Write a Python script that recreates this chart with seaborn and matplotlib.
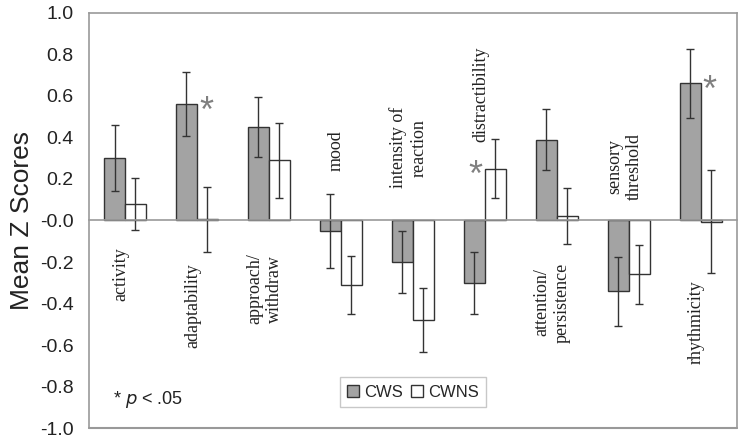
import numpy as np
import pandas as pd
import matplotlib
matplotlib.use("Agg")
import matplotlib.pyplot as plt
from matplotlib.patches import Patch
import seaborn as sns

traits = ["activity", "adaptability", "approach/\nwithdraw", "mood",
          "intensity of\nreaction", "distractibility", "attention/\npersistence",
          "sensory\nthreshold", "rhythmicity"]
groups = ["CWS", "CWNS"]
cws_mean = [0.30, 0.56, 0.45, -0.05, -0.20, -0.30, 0.39, -0.34, 0.66]
cws_err = [0.16, 0.155, 0.145, 0.18, 0.15, 0.15, 0.148, 0.166, 0.167]
cwns_mean = [0.08, 0.005, 0.29, -0.31, -0.48, 0.25, 0.02, -0.26, -0.005]
cwns_err = [0.125, 0.157, 0.18, 0.14, 0.153, 0.142, 0.135, 0.14, 0.25]
# traits with p < .05 and which bar the asterisk sits next to
sig_traits = {"adaptability": "CWS", "distractibility": "CWNS", "rhythmicity": "CWS"}

# where the rotated category labels sit (y in data units)
label_y = [-0.26, -0.41, -0.33, 0.335, 0.35, 0.61, -0.395, 0.26, -0.49]

df = pd.DataFrame({
    "trait": traits * 2,
    "group": ["CWS"] * len(traits) + ["CWNS"] * len(traits),
    "z": cws_mean + cwns_mean,
})

sns.set_style("white")
plt.rcParams["font.family"] = ["Liberation Sans", "DejaVu Sans"]

fig = plt.figure(figsize=(7.54, 4.45), dpi=100)
ax = fig.add_axes([0.118, 0.038, 0.859, 0.933])

colors = {"CWS": "#a3a3a3", "CWNS": "white"}
sns.barplot(data=df, x="trait", y="z", hue="group", hue_order=groups,
            palette=colors, edgecolor="#333333", linewidth=1, width=0.58,
            errorbar=None, legend=False, ax=ax)

errs = {"CWS": cws_err, "CWNS": cwns_err}
for grp, cont in zip(groups, ax.containers):
    xs = [b.get_x() + b.get_width() / 2 for b in cont]
    ys = [b.get_height() for b in cont]
    ax.errorbar(xs, ys, yerr=errs[grp], fmt="none", ecolor="#333333",
                elinewidth=1, capsize=3, capthick=1)
    for i, b in enumerate(cont):
        name = traits[i]
        if sig_traits.get(name) == grp:
            if grp == "CWS":
                ax.text(b.get_x() + b.get_width() + 0.03, ys[i] + 0.045, "*",
                        color="#808080", fontsize=26, ha="left", va="top")
            else:
                ax.text(b.get_x() - 0.03, ys[i] + 0.045, "*", color="#808080",
                        fontsize=26, ha="right", va="top")

for i, (name, ly) in enumerate(zip(traits, label_y)):
    ax.text(i - 0.06, ly, name, rotation=90, ha="center", va="center",
            family="Liberation Serif", fontsize=13, color="#222222",
            multialignment="center", linespacing=1.25)

ax.set_ylim(-1.0, 1.0)
ax.set_xlim(-0.5, len(traits) - 0.5)
ax.set_yticks(np.arange(-1.0, 1.01, 0.2))
ax.set_yticklabels([f"{v:.1f}" for v in np.arange(-1.0, 1.01, 0.2)])
ax.tick_params(axis="y", labelsize=14, colors="#222222", length=0, pad=11)

# category axis drawn through zero, with tick marks between groups
ax.spines["bottom"].set_position(("data", 0))
ax.set_xticks(np.arange(0.5, len(traits) - 0.5, 1.0))
ax.set_xticklabels([])
ax.tick_params(axis="x", direction="inout", length=6, color="#999999", width=1)
ax.axhline(-1.0, color="#999999", lw=1.5, clip_on=False)
for s in ["left", "right", "top", "bottom"]:
    ax.spines[s].set_color("#999999")
    ax.spines[s].set_linewidth(1.2)
ax.set_xlabel("")
ax.set_ylabel("Mean Z Scores", fontsize=19, color="#222222", labelpad=4)

ax.text(0.037, 0.068, r"* $\it{p}$ < .05", transform=ax.transAxes, fontsize=13,
        color="#222222", ha="left", va="center")

handles = [Patch(facecolor=colors[g], edgecolor="#333333", label=g) for g in groups]
ax.legend(handles=handles, loc="lower center", bbox_to_anchor=(0.5, 0.03), ncol=2,
          handlelength=0.7, handleheight=0.7, columnspacing=0.5, handletextpad=0.3,
          fontsize=12, fancybox=False, edgecolor="#bbbbbb", borderpad=0.45)

fig.savefig("out.png", dpi=100, facecolor="white")
